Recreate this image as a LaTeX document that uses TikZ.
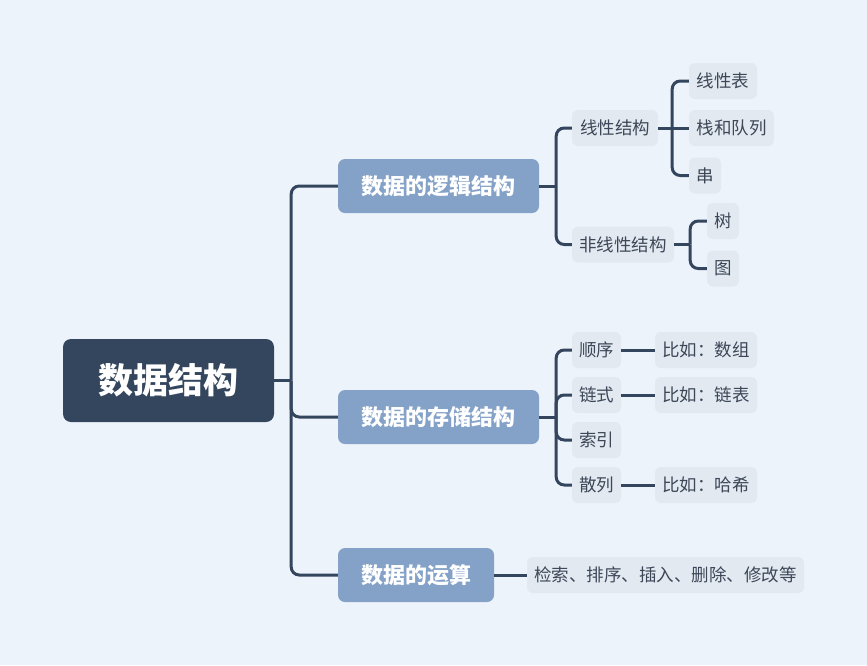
\documentclass[tikz,border=0pt]{standalone}
\usepackage{fontspec}
\setmainfont{Noto Sans CJK SC}
\definecolor{bg}{HTML}{EDF3FA}
\definecolor{rootc}{HTML}{34465E}
\definecolor{lvl}{HTML}{84A1C8}
\definecolor{leaf}{HTML}{E2E9F1}
\definecolor{ln}{HTML}{34465E}
\definecolor{txt}{HTML}{3D4757}
\begin{document}
\begin{tikzpicture}[x=1pt,y=-1pt,
 rootbox/.style={fill=rootc, rounded corners=8pt, text=white, font=\fontsize{35}{35}\selectfont\bfseries, inner sep=0pt},
 lvlbox/.style={fill=lvl, rounded corners=7pt, text=white, font=\fontsize{22}{22}\selectfont\bfseries, inner sep=0pt, minimum height=54pt},
 leafbox/.style={fill=leaf, rounded corners=6pt, text=txt, font=\fontsize{17.5}{17.5}\selectfont, inner sep=0pt, minimum height=36pt},
 conn/.style={draw=ln, line width=3pt, rounded corners=8pt}]
\fill[bg] (0,0) rectangle (867,665);
\useasboundingbox (0,0) rectangle (867,665);
% nodes
\node[rootbox, minimum width=211pt, minimum height=83pt] (root) at (168.5,380.5) {数据结构};
\node[lvlbox, minimum width=201pt] (logic) at (438.5,186) {数据的逻辑结构};
\node[lvlbox, minimum width=201pt] (store) at (438.5,417) {数据的存储结构};
\node[lvlbox, minimum width=156pt] (oper) at (416,575) {数据的运算};
\node[leafbox, minimum width=86pt] (lin) at (615,128) {线性结构};
\node[leafbox, minimum width=102pt] (nonlin) at (623,244.5) {非线性结构};
\node[leafbox, minimum width=68pt] (lb) at (723,81) {线性表};
\node[leafbox, minimum width=85pt] (zd) at (731.5,128) {栈和队列};
\node[leafbox, minimum width=32pt] (chuan) at (705,175.5) {串};
\node[leafbox, minimum width=32pt] (shu) at (723,221) {树};
\node[leafbox, minimum width=32pt] (tu) at (723,268.5) {图};
\node[leafbox, minimum width=49pt] (sx) at (596.5,350) {顺序};
\node[leafbox, minimum width=49pt] (ls) at (596.5,395) {链式};
\node[leafbox, minimum width=49pt] (sy) at (596.5,440) {索引};
\node[leafbox, minimum width=49pt] (sl) at (596.5,485) {散列};
\node[leafbox, minimum width=102pt] (e1) at (706,350) {比如：数组};
\node[leafbox, minimum width=102pt] (e2) at (706,395) {比如：链表};
\node[leafbox, minimum width=102pt] (e3) at (706,485) {比如：哈希};
\node[leafbox, minimum width=277pt] (ops) at (665.5,575) {检索、排序、插入、删除、修改等};
% junctions
\coordinate (rj) at ([xshift=17pt]root.east);
\coordinate (lj) at ([xshift=17pt]logic.east);
\coordinate (sj) at ([xshift=17pt]store.east);
\coordinate (linj) at ([xshift=14pt]lin.east);
\coordinate (nlj) at ([xshift=16pt]nonlin.east);
% connectors
\draw[conn] (root.east) -- (rj);
\draw[conn] (rj) |- (logic.west);
\draw[conn] (rj) |- (store.west);
\draw[conn] (rj) |- (oper.west);
\draw[conn] (logic.east) -- (lj);
\draw[conn] (lj) |- (lin.west);
\draw[conn] (lj) |- (nonlin.west);
\draw[conn] (lin.east) -- (linj);
\draw[conn] (linj) |- (lb.west);
\draw[conn] (linj) -- (zd.west);
\draw[conn] (linj) |- (chuan.west);
\draw[conn] (nonlin.east) -- (nlj);
\draw[conn] (nlj) |- (shu.west);
\draw[conn] (nlj) |- (tu.west);
\draw[conn] (store.east) -- (sj);
\draw[conn] (sj) |- (sx.west);
\draw[conn] (sj) |- (ls.west);
\draw[conn] (sj) |- (sy.west);
\draw[conn] (sj) |- (sl.west);
\draw[conn] (sx) -- (e1);
\draw[conn] (ls) -- (e2);
\draw[conn] (sl) -- (e3);
\draw[conn] (oper) -- (ops);
\end{tikzpicture}
\end{document}
